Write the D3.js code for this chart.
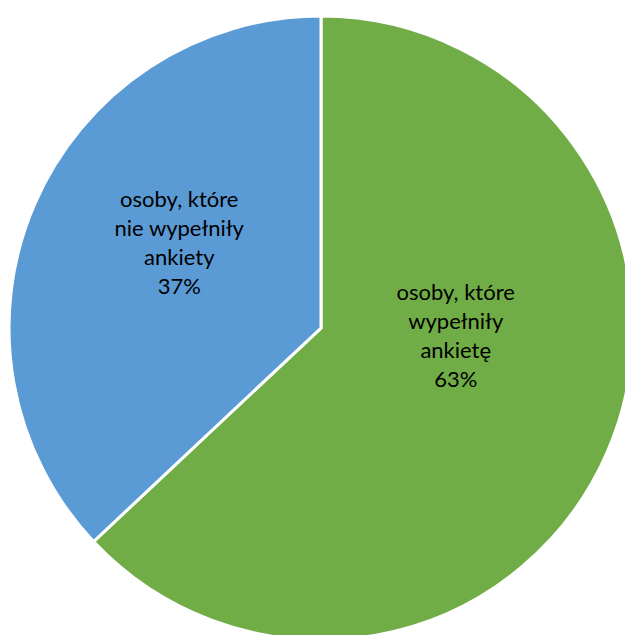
<!DOCTYPE html>
<html>
<head>
<meta charset="utf-8">
<script src="https://cdn.jsdelivr.net/npm/d3@7"></script>
<style>
  html, body { margin: 0; padding: 0; background: #fff; overflow: hidden; }
</style>
</head>
<body>
<div id="chart"></div>
<script>
// data
const categories = ['osoby, które wypełniły ankietę', 'osoby, które nie wypełniły ankiety'];
const labelLines = [
  ['osoby, które', 'wypełniły', 'ankietę'],
  ['osoby, które', 'nie wypełniły', 'ankiety']
];
const values = [63, 37];
const colors = ['#70AD47', '#5B9BD5'];

const width = 625;
const height = 635;
const cx = 321, cy = 328, radius = 312;
// label placement (polar, degrees clockwise from top), like Excel's best-fit
const labelAngle = [93.8, 300.8];
const labelRadius = [135, 165];
const font = ['Lato', 'Open Sans', 'Noto Sans', 'sans-serif'].map(f => JSON.stringify(f)).join(',');
const fontSize = 22;
const lineHeight = 29;

const svg = d3.select('#chart').append('svg')
  .attr('width', width)
  .attr('height', height)
  .attr('viewBox', `0 0 ${width} ${height}`);

const g = svg.append('g').attr('transform', `translate(${cx},${cy})`);

const pie = d3.pie().sort(null).value(d => d);
const arcs = pie(values);
const arc = d3.arc().innerRadius(0).outerRadius(radius);

g.selectAll('path')
  .data(arcs)
  .enter()
  .append('path')
  .attr('d', arc)
  .attr('fill', (d, i) => colors[i])
  .attr('stroke', '#fff')
  .attr('stroke-width', 3)
  .attr('stroke-linejoin', 'miter');

const pct = d3.format('.0%');
const total = d3.sum(values);

const labels = g.selectAll('text.lbl')
  .data(arcs)
  .enter()
  .append('text')
  .attr('class', 'lbl')
  .attr('font-family', font)
  .attr('font-size', fontSize)
  .attr('fill', '#000')
  .attr('text-anchor', 'middle')
  .attr('transform', (d, i) => {
    const a = labelAngle[i] * Math.PI / 180;
    return `translate(${labelRadius[i] * Math.sin(a)},${-labelRadius[i] * Math.cos(a)})`;
  });

labels.each(function(d, i) {
  const lines = labelLines[i].concat([pct(d.data / total)]);
  const t = d3.select(this);
  const top = -(lines.length - 1) / 2 * lineHeight + 7;
  lines.forEach((line, j) => {
    t.append('tspan')
      .attr('x', 0)
      .attr('y', top + j * lineHeight)
      .text(line);
  });
});
</script>
</body>
</html>
